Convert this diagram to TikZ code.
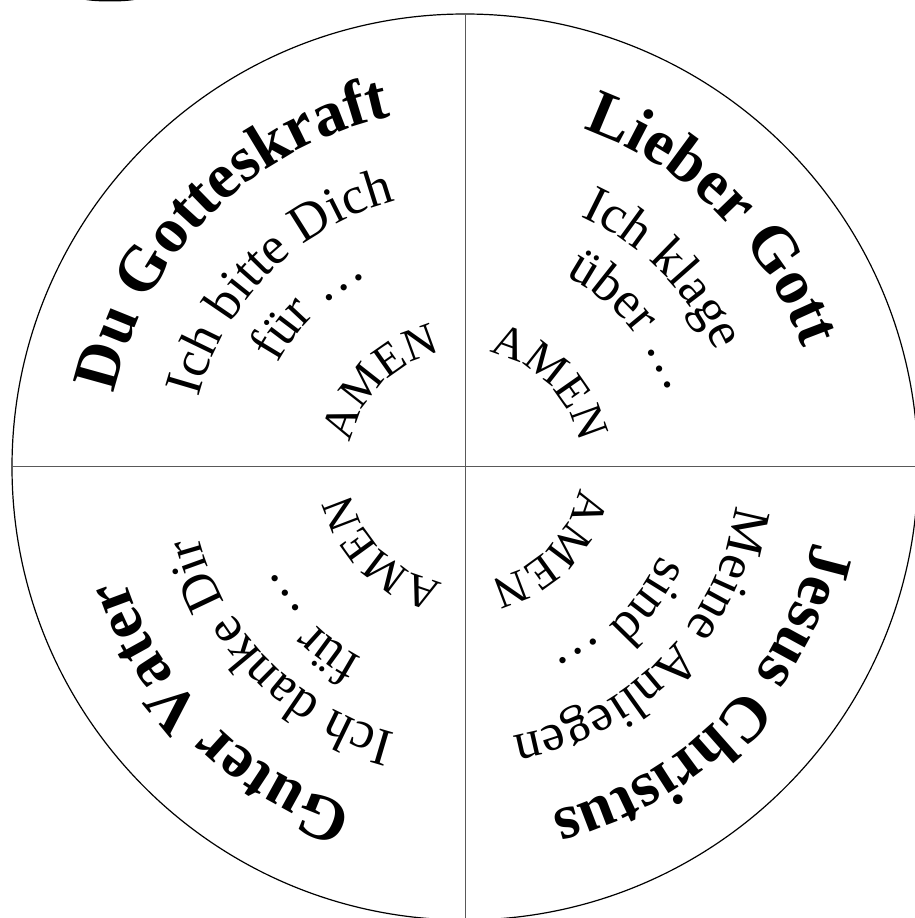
\documentclass[tikz,border=0pt]{standalone}
\usepackage{fontspec}
\setmainfont{Liberation Serif}
\usetikzlibrary{decorations.text}

\newcommand{\titlefont}{\bfseries\fontsize{64}{70}\selectfont}
\newcommand{\linefont}{\fontsize{53}{60}\selectfont}
\newcommand{\amenfont}{\fontsize{46}{50}\selectfont}

\tikzset{
    ringtext/.style={decorate, decoration={text along path, text align=center, text={#1}}},
    divider/.style={line width=1pt, black!65},
}

\begin{document}
\begin{tikzpicture}[x=1pt, y=1pt]
    \useasboundingbox (-465,-451) rectangle (450,467);
    \clip (-465,-451) rectangle (450,467);
    \coordinate (C) at (0,0);
    \fill[black] (-355,468.5) ellipse [x radius=28pt, y radius=3pt];
    \draw[line width=1.2pt] (C) circle [radius=453pt];
    \draw[divider] (0,453) -- (0,-451);
    \draw[divider] (-453,0) -- (450,0);
    % Du Gotteskraft
    \path[ringtext={|\titlefont|Du Gotteskraft}] (215:358pt) arc [start angle=215, end angle=55, radius=358pt];
    \path[ringtext={|\linefont|Ich bitte Dich}] (215:275pt) arc [start angle=215, end angle=55, radius=275pt];
    \path[ringtext={|\linefont|für …}] (214:214pt) arc [start angle=214, end angle=54, radius=214pt];
    \path[ringtext={|\amenfont|AMEN}] (215:117pt) arc [start angle=215, end angle=55, radius=117pt];
    % Lieber Gott
    \path[ringtext={|\titlefont|Lieber Gott}] (125:358pt) arc [start angle=125, end angle=-35, radius=358pt];
    \path[ringtext={|\linefont|Ich klage}] (125:276pt) arc [start angle=125, end angle=-35, radius=276pt];
    \path[ringtext={|\linefont|über …}] (121:216pt) arc [start angle=121, end angle=-39, radius=216pt];
    \path[ringtext={|\amenfont|AMEN}] (125:117pt) arc [start angle=125, end angle=-35, radius=117pt];
    % Jesus Christus
    \path[ringtext={|\titlefont|Jesus Christus}] (36:356pt) arc [start angle=36, end angle=-124, radius=356pt];
    \path[ringtext={|\linefont|Meine Anliegen}] (36:273pt) arc [start angle=36, end angle=-124, radius=273pt];
    \path[ringtext={|\linefont|sind …}] (35:214pt) arc [start angle=35, end angle=-125, radius=214pt];
    \path[ringtext={|\amenfont|AMEN}] (36:116pt) arc [start angle=36, end angle=-124, radius=116pt];
    % Guter Vater
    \path[ringtext={|\titlefont|Guter Vater}] (305:358pt) arc [start angle=305, end angle=145, radius=358pt];
    \path[ringtext={|\linefont|Ich danke Dir}] (305:275pt) arc [start angle=305, end angle=145, radius=275pt];
    \path[ringtext={|\linefont|für …}] (305:217pt) arc [start angle=305, end angle=145, radius=217pt];
    \path[ringtext={|\amenfont|AMEN}] (306:117pt) arc [start angle=306, end angle=146, radius=117pt];
\end{tikzpicture}
\end{document}
